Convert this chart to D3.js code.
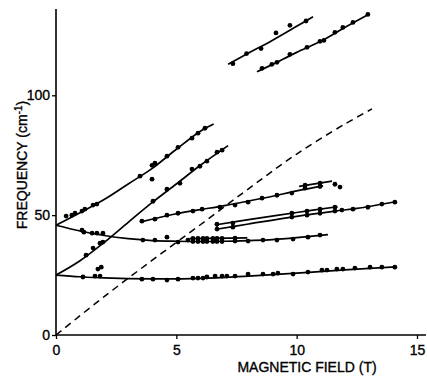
<!DOCTYPE html>
<html>
<head>
<meta charset="utf-8">
<script src="https://cdn.jsdelivr.net/npm/d3@7"></script>
<style>
  body { margin: 0; background: #fff; }
  text { font-family: "Liberation Sans", Arial, sans-serif; fill: #000; stroke: #000; stroke-width: 0.35px; }
</style>
</head>
<body>
<svg id="chart" width="427" height="376"></svg>
<script>
// measured points (field T, frequency cm-1)
const ptsA = [[1.12,24.2],[1.62,24.6],[1.83,24.6],[3.57,23.3],[4.03,23.3],[4.61,22.9],[5.07,23.3],[5.69,23.75],[5.9,23.75],[6.11,23.75],[6.27,24.2],[6.61,24.6],[6.9,24.6],[7.1,24.6],[7.44,24.6],[7.98,25.4],[8.6,25.4],[9.02,25.4],[9.22,25.8],[9.85,25.4],[10.47,26.25],[11.05,27.1],[11.26,27.1],[11.67,27.5],[11.92,27.5],[12.42,27.9],[13.05,28.3],[13.54,28.3],[14.08,28.3]]
const ptsB = [[1.08,43.75],[1.16,42.9],[1.5,42.5],[1.7,42.5],[1.95,42.5],[3.61,39.6],[4.11,39.6],[5.07,38.75],[5.48,39.6],[5.69,39.0],[5.9,39.0],[6.11,39.0],[6.27,39.0],[6.52,39.0],[6.69,39.0],[6.9,39.0],[7.44,39.2],[7.98,39.2],[8.6,39.6],[9.18,39.6],[9.85,40.0],[10.47,40.8],[10.97,41.7]]
const ptsB2 = [[5.69,40.3],[5.9,40.3],[6.11,40.3],[6.27,40.3],[6.52,40.3],[6.69,40.3],[6.9,40.3],[7.44,40.4]]
const ptsC = [[0.42,49.6],[0.66,50],[0.79,50.8],[1.08,51.7],[1.2,52.5],[1.54,54.2],[1.7,54.6],[3.49,66.25],[3.99,70.8],[4.11,71.7],[4.61,74.6],[5.07,78.3],[5.65,82.1],[5.9,84.2],[6.19,86.25]]
const ptsD = [[1.25,33.3],[1.54,36.25],[1.83,38.3],[1.95,38.75],[4.03,55.8],[4.61,60.8],[5.15,63.3],[5.65,69.2],[5.98,70.4],[6.27,72.5],[6.69,76.25],[6.9,77.1]]
const ptsE = [[3.57,47.5],[4.11,48.3],[4.61,50],[5.07,50.8],[5.69,51.7],[6.07,52.5],[6.81,53.3],[7.44,54.2],[7.98,55.4],[8.56,57.1],[9.18,58.3],[9.8,59.2],[10.35,61.25],[10.97,61.9]]
const ptsE2 = [[10.35,62.5],[10.97,63.3]]
const ptsF1 = [[6.69,46.25],[7.35,46.7],[9.8,50.8],[10.43,51.7],[10.97,52.5],[11.59,53.3]]
const ptsF2 = [[6.69,44.2],[7.35,45],[9.8,49.2],[10.43,50],[10.97,50.8],[11.59,51.7],[11.88,52.1],[12.34,52.5],[12.96,53.3],[13.54,54.6],[14.08,55.4]]
const ptsG = [[7.35,113.2],[7.92,117.4],[8.52,119.5],[9.72,129.2],[10.39,131]]
const ptsH = [[8.56,111.25],[8.97,112.9],[9.18,113.75],[9.72,117.1],[10.43,120],[10.97,122.5],[11.13,122.9],[11.59,126.25],[11.92,128.3],[12.34,130.4],[12.96,133.75]]
const ptsStray = [[1.74,27.5],[1.88,28.3],[4.61,40.8],[3.99,65],[11.59,62.9],[11.8,61.7],[9.14,126]]

// fitted curves
const fitA = [[0,25],[1,24.3],[2,23.8],[4,23.4],[6,23.6],[8,24.6],[10,25.8],[12,27.2],[14.1,28.4]]
const fitB = [[0,45.8],[1,43.4],[2,41.5],[3,40.2],[4,39.4],[5,39.1],[6,39.0],[7,39.1],[8,39.4],[9,39.8],[10,40.6],[11.3,41.9]]
const fitB2 = [[5.55,40.2],[7.95,40.5]]
const fitC = [[0,45.8],[1,51],[2,56.5],[3,63],[4,69.5],[5,77.5],[6,85],[6.55,88]]
const fitD = [[0,25],[1,31],[2,38.6],[3,47],[4,55.3],[5,63],[6,70.8],[7.15,79]]
const fitE = [[3.57,47.3],[5,50.6],[6,52.3],[7,54],[8,55.9],[9,57.9],[10,60.1],[11.1,62.2]]
const fitE2 = [[10.1,62.0],[11.47,64.2]]
const fitF1 = [[6.6,45.9],[8,48.1],[10,51.1],[11.7,53.5]]
const fitF2 = [[6.6,44.0],[8,46.3],[10,49.5],[11.6,51.7],[12.5,52.8],[14.1,55.6]]
const fitG = [[7.15,113],[8,117.6],[9,123],[10,128.8],[10.68,132.8]]
const fitH = [[8.35,109.8],[9,112.9],[10,117.9],[11,122.5],[12,128.3],[12.96,133.6]]
const fitDashed = [[0,0],[2,16],[4,31.2],[6,46],[8,61],[10,75.5],[12,88],[13.13,94.3]]

const xTicks = [0, 5, 10, 15]
const yTicks = [0, 50, 100]

const svg = d3.select('#chart')

const x = d3.scaleLinear().domain([0, 15]).range([56, 417])
const y = d3.scaleLinear().domain([0, 136]).range([335, 9])

const line = d3.line()
  .x((d) => x(d[0]))
  .y((d) => y(d[1]))
  .curve(d3.curveCatmullRom)

// axes
const xAxis = svg.append('g')
  .attr('transform', `translate(0,${y(0)})`)
  .call(d3.axisBottom(x).tickValues(xTicks).tickSize(4).tickPadding(6).tickFormat(d3.format('d')))
xAxis.select('.domain').remove()
xAxis.append('line')
  .attr('x1', x(0)).attr('x2', 426)
  .attr('stroke', '#000').attr('stroke-width', 1.6)

const yAxis = svg.append('g')
  .attr('transform', `translate(${x(0)},0)`)
  .call(d3.axisLeft(y).tickValues(yTicks).tickSize(4).tickPadding(2).tickFormat(d3.format('d')))
yAxis.select('.domain').remove()
yAxis.append('line')
  .attr('y1', y(0)).attr('y2', 9)
  .attr('stroke', '#000').attr('stroke-width', 1.6)

svg.selectAll('.tick line').attr('stroke', '#000').attr('stroke-width', 1.3)
svg.selectAll('.tick text').attr('font-size', 14).attr('fill', '#000')

svg.append('text')
  .attr('x', 307).attr('y', 372)
  .attr('text-anchor', 'middle')
  .attr('font-size', 14)
  .text('MAGNETIC FIELD (T)')

const yTitle = svg.append('text')
  .attr('transform', 'translate(27,165) rotate(-90)')
  .attr('text-anchor', 'middle')
  .attr('font-size', 14)
yTitle.append('tspan').text('FREQUENCY (cm')
yTitle.append('tspan').attr('font-size', 10).attr('dy', -5).text('-1')
yTitle.append('tspan').attr('dy', 5).text(')')

// dashed reference line
svg.append('path')
  .attr('d', line(fitDashed))
  .attr('fill', 'none')
  .attr('stroke', '#000')
  .attr('stroke-width', 1.5)
  .attr('stroke-dasharray', '7,5')

// fitted curves
const fits = [fitA, fitB, fitB2, fitC, fitD, fitE, fitE2, fitF1, fitF2, fitG, fitH]
svg.selectAll('path.fit')
  .data(fits)
  .enter().append('path')
  .attr('class', 'fit')
  .attr('d', (d) => line(d))
  .attr('fill', 'none')
  .attr('stroke', '#000')
  .attr('stroke-width', 1.7)

// rungs joining the doubled lines
const pairs = [[ptsB, ptsB2], [ptsF2, ptsF1], [ptsE, ptsE2]]
pairs.forEach(([lo, hi]) => {
  hi.forEach((p) => {
    const q = lo.find((d) => d[0] === p[0])
    if (!q) return
    svg.append('line')
      .attr('x1', x(p[0])).attr('x2', x(q[0]))
      .attr('y1', y(p[1])).attr('y2', y(q[1]))
      .attr('stroke', '#000').attr('stroke-width', 1.6)
  })
})

// data points
const allPts = [].concat(ptsA, ptsB, ptsB2, ptsC, ptsD, ptsE, ptsE2, ptsF1, ptsF2, ptsG, ptsH, ptsStray)
svg.selectAll('circle.pt')
  .data(allPts)
  .enter().append('circle')
  .attr('class', 'pt')
  .attr('cx', (d) => x(d[0]))
  .attr('cy', (d) => y(d[1]))
  .attr('r', 2.4)
  .attr('fill', '#000')
</script>
</body>
</html>
